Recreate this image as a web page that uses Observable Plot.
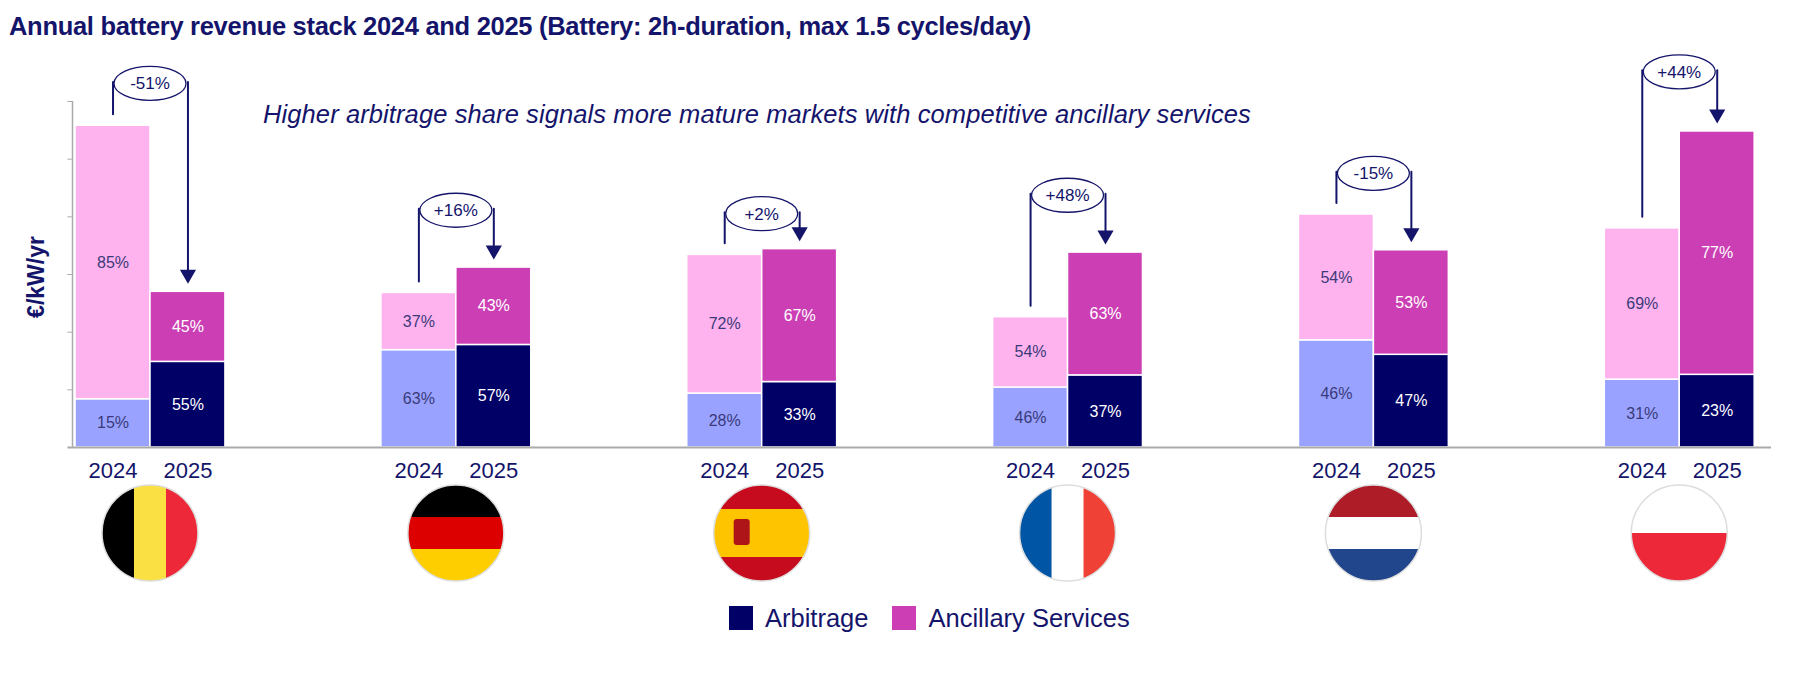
<!DOCTYPE html>
<html><head><meta charset="utf-8">
<script src="https://cdn.jsdelivr.net/npm/d3@7"></script>
<script src="https://cdn.jsdelivr.net/npm/@observablehq/plot@0.6"></script>
<style>
body{margin:0;background:#fff;font-family:Arial,"Liberation Sans",sans-serif;}
#wrap{position:relative;width:1800px;height:682px;}
#title{position:absolute;left:9px;top:12px;font-size:25.5px;font-weight:bold;color:#14146b;letter-spacing:-0.3px;}
#sub{position:absolute;left:263px;top:100px;font-size:25.5px;font-style:italic;color:#14146b;letter-spacing:0.1px;}
#ylab{position:absolute;left:36px;top:277px;transform:translate(-50%,-50%) rotate(-90deg);font-size:23px;font-weight:bold;color:#14146b;transform-origin:center;}
#legend{position:absolute;left:729px;top:604px;font-size:25.5px;color:#14146b;display:flex;gap:24px;align-items:center;}
.sw{display:inline-block;width:24px;height:24px;margin-right:12px;vertical-align:-3px;}
</style></head><body>
<div id="wrap">
<div id="chart"></div>
<div id="title">Annual battery revenue stack 2024 and 2025 (Battery: 2h-duration,  max 1.5 cycles/day)</div>
<div id="sub">Higher arbitrage share signals more mature markets with  competitive ancillary services</div>
<div id="ylab">€/kW/yr</div>
<div id="legend"><span><span class="sw" style="background:#000066"></span>Arbitrage</span><span><span class="sw" style="background:#cc3fb4"></span>Ancillary Services</span></div>
</div>
<script>
const countries = ["BE","DE","ES","FR","NL","PL"];
const total2024 = [279,134,167,113,202,190];
const total2025 = [135,156,172,169,171,274];
const arbShare2024 = [15,63,28,46,46,31];
const arbShare2025 = [55,57,33,37,47,23];
const changeLabels = ["-51%","+16%","+2%","+48%","-15%","+44%"];
const bracketLevel = [317,207,204,220,239,327];
const yTicks = [0,50,100,150,200,250,300];

const W = 0.245;
const segs = [];
countries.forEach((c,i)=>{
  [[2024,total2024[i],arbShare2024[i]],[2025,total2025[i],arbShare2025[i]]].forEach(([yr,t,s])=>{
    const x1 = yr===2024? i-W : i, x2 = yr===2024? i : i+W;
    const a = t*s/100;
    segs.push({i,yr,x1,x2,y1:0,y2:a,type:"arb",label:s+"%"});
    segs.push({i,yr,x1,x2,y1:a,y2:t,type:"anc",label:(100-s)+"%"});
  });
});
const colors = {"arb2024":"#99a3ff","arb2025":"#000066","anc2024":"#ffb3ee","anc2025":"#cc3fb4"};
const years = [];
countries.forEach((c,i)=>{years.push({x:i-W/2,yr:"2024"});years.push({x:i+W/2,yr:"2025"});});
const brackets = countries.map((c,i)=>({i,l:i-W/2,r:i+W/2,lvl:bracketLevel[i],t24:total2024[i],t25:total2025[i],lab:changeLabels[i]}));
const lines = [];
brackets.forEach(b=>{
  lines.push({g:b.i+"L",x:b.l,y:b.t24+10});lines.push({g:b.i+"L",x:b.l,y:b.lvl});
  lines.push({g:b.i+"R",x:b.r,y:b.lvl});lines.push({g:b.i+"R",x:b.r,y:b.t25+18});
});

const plot = Plot.plot({
  width:1800, height:682, marginLeft:72, marginRight:29, marginTop:101, marginBottom:235,
  x:{domain:[-0.255,5.3], axis:null},
  y:{domain:[0,300], axis:null},
  style:{fontFamily:"Arial, Liberation Sans, sans-serif", overflow:"visible"},
  marks:[
    Plot.ruleY(yTicks.slice(1),{x1:-0.255-0.015, x2:-0.255, stroke:"#aaa"}),
    Plot.rect(segs,{x1:"x1",x2:"x2",y1:"y1",y2:"y2",fill:d=>colors[d.type+d.yr],stroke:"white",strokeWidth:1.5}),
    Plot.ruleX([-0.255],{y1:0,y2:300,stroke:"#aaa",strokeWidth:1.5}),
    Plot.ruleY([0],{x1:-0.27,x2:5.3,stroke:"#aaa",strokeWidth:2}),
    Plot.text(segs,{x:d=>(d.x1+d.x2)/2,y:d=>(d.y1+d.y2)/2,text:"label",fontSize:16,fill:d=>d.yr===2025?"white":"#3a3a7a"}),
    Plot.text(years,{x:"x",y:0,text:"yr",dy:23,fontSize:22,fill:"#14146b"}),
    Plot.line(lines,{x:"x",y:"y",z:"g",stroke:"#14146b",strokeWidth:2}),
    Plot.dot(brackets,{x:"r",y:d=>d.t25+15,symbol:"triangle",rotate:180,r:6,fill:"#14146b"})
  ]
});
document.getElementById("chart").appendChild(plot);
const xs = plot.scale("x"), ys = plot.scale("y");
const svg = d3.select(plot);
brackets.forEach(b=>{
  const cx=(xs.apply(b.l)+xs.apply(b.r))/2, cy=ys.apply(b.lvl)+2;
  svg.append("ellipse").attr("cx",cx).attr("cy",cy).attr("rx",36).attr("ry",17).attr("fill","white").attr("stroke","#14146b").attr("stroke-width",1.3);
  svg.append("text").attr("x",cx).attr("y",cy+6).attr("text-anchor","middle").attr("font-size",17).attr("fill","#14146b").text(b.lab);
});
const flags = {
  BE:{dir:"v",c:["#000","#fae042","#ed2939"]},
  DE:{dir:"h",c:["#000","#dd0000","#ffce00"]},
  ES:{dir:"h",c:["#c60b1e","#ffc400","#ffc400","#c60b1e"]},
  FR:{dir:"v",c:["#0055a4","#fff","#ef4135"]},
  NL:{dir:"h",c:["#ae1c28","#fff","#21468b"]},
  PL:{dir:"h",c:["#fff","#ed2939"]}
};
const defs = svg.append("defs");
countries.forEach((c,i)=>{
  const cx = xs.apply(i), cy=533, r=48;
  defs.append("clipPath").attr("id","clip"+c).append("circle").attr("cx",cx).attr("cy",cy).attr("r",r);
  const g = svg.append("g").attr("clip-path",`url(#clip${c})`);
  const f = flags[c], n=f.c.length;
  f.c.forEach((col,k)=>{
    if(f.dir==="v") g.append("rect").attr("x",cx-r+2*r*k/n).attr("y",cy-r).attr("width",2*r/n+0.5).attr("height",2*r).attr("fill",col);
    else g.append("rect").attr("x",cx-r).attr("y",cy-r+2*r*k/n).attr("width",2*r).attr("height",2*r/n+0.5).attr("fill",col);
  });
  if(c==="ES") g.append("rect").attr("x",cx-28).attr("y",cy-14).attr("width",16).attr("height",26).attr("fill","#ad1519").attr("rx",3);
  svg.append("circle").attr("cx",cx).attr("cy",cy).attr("r",r).attr("fill","none").attr("stroke","#ddd").attr("stroke-width",1.5);
});
</script>
</body></html>
